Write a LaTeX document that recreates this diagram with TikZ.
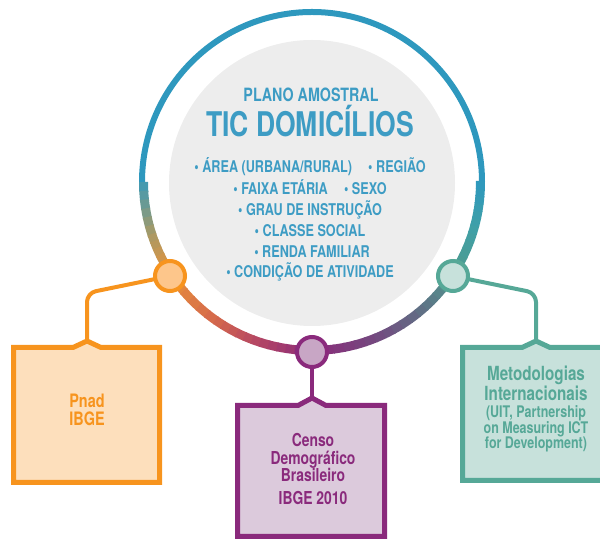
\documentclass[tikz,border=0pt]{standalone}
\usepackage{fontspec}
\setmainfont{TeX Gyre Heros}[FakeStretch=0.78]
\usetikzlibrary{positioning}
\definecolor{ticblue}{HTML}{3D9CC4}
\definecolor{ringblue}{HTML}{2E98BE}
\definecolor{rg0}{HTML}{3C9AB6}
\definecolor{rg1}{HTML}{A89A66}
\definecolor{rg2}{HTML}{E8923A}
\definecolor{rg3}{HTML}{D4684C}
\definecolor{rg4}{HTML}{B34565}
\definecolor{rg5}{HTML}{8A2C7A}
\definecolor{rg6}{HTML}{74497F}
\definecolor{rg7}{HTML}{5E7386}
\definecolor{rg8}{HTML}{4F9B8F}
\definecolor{rg9}{HTML}{3FA0A8}
\definecolor{pnadline}{HTML}{F7941E}
\definecolor{pnadfill}{HTML}{FDDFBC}
\definecolor{pnadhub}{HTML}{FDC68B}
\definecolor{censoline}{HTML}{8A2A7C}
\definecolor{censofill}{HTML}{DCCADC}
\definecolor{censohub}{HTML}{C8A6C5}
\definecolor{metoline}{HTML}{56A897}
\definecolor{metofill}{HTML}{C7E1DB}
\definecolor{diskin}{HTML}{EDEDED}
\definecolor{diskmid}{HTML}{E0E0E0}
\definecolor{diskout}{HTML}{C8C8C8}
\pgfdeclareradialshading{diskshade}{\pgfpoint{0bp}{0bp}}{color(0bp)=(diskin); color(38bp)=(diskin); color(47bp)=(diskmid); color(50bp)=(diskout)}
\tikzset{
    hub/.style = {circle, line width=4, minimum size=30, inner sep=0pt},
    boxline/.style = {line width=5, line join=miter},
    link/.style = {line width=4, rounded corners=9},
    bullets/.style = {text=ticblue, anchor=base, inner sep=0pt, font=\bfseries\fontsize{16.2}{16}\selectfont},
    boxtext/.style = {align=center, inner sep=0pt, font=\bfseries\fontsize{18.5}{18}\selectfont}
}

\begin{document}
\begin{tikzpicture}[x=1pt,y=1pt]
  \clip (0,0) rectangle (600,540);
  \coordinate (ctr) at (312,358);

  % ring
  \draw[ringblue, line width=6] (ctr) ++(0:170) arc[start angle=0, end angle=180, radius=170];
  \foreach \aa/\ab/\ca/\cb in {180/198/rg0/rg1, 198/213/rg1/rg2, 213/235/rg2/rg3, 235/252/rg3/rg4,
      252/270/rg4/rg5, 270/292/rg5/rg6, 292/312/rg6/rg7, 312/328/rg7/rg8, 328/345/rg8/rg9, 345/360/rg9/ringblue}{
    \foreach \k in {0,...,5}{
      \pgfmathsetmacro\st{\aa+(\ab-\aa)*\k/6}
      \pgfmathsetmacro\en{\aa+(\ab-\aa)*(\k+1)/6+0.4}
      \pgfmathtruncatemacro\pc{100-(\k*100+50)/6}
      \draw[line width=9, draw=\ca!\pc!\cb] (ctr) ++(\st:168.5) arc[start angle=\st, end angle=\en, radius=168.5];
    }
  }

  % disk
  \shade[shading=diskshade] (312,357) circle[radius=143];
  \node[text=ticblue, anchor=base, inner sep=0pt, font=\bfseries\fontsize{18.3}{18}\selectfont] (plano) at (311,438) {PLANO AMOSTRAL};
  \node[text=ticblue, anchor=base, inner sep=0pt, font=\bfseries\fontsize{34}{34}\selectfont] (tic) at (310,403) {TIC DOMICÍLIOS};
  \node[bullets] (l1) at (310,367) {\textbullet\ ÁREA (URBANA/RURAL)\quad\textbullet\ REGIÃO};
  \node[bullets] (l2) at (310,345.5) {\textbullet\ FAIXA ETÁRIA\quad\textbullet\ SEXO};
  \node[bullets] (l3) at (310,324.5) {\textbullet\ GRAU DE INSTRUÇÃO};
  \node[bullets] (l4) at (310,303.5) {\textbullet\ CLASSE SOCIAL};
  \node[bullets] (l5) at (312,282.5) {\textbullet\ RENDA FAMILIAR};
  \node[bullets] (l6) at (310,262.5) {\textbullet\ CONDIÇÃO DE ATIVIDADE};

  % boxes
  \coordinate (opeak) at (87,199);
  \coordinate (ppeak) at (312,142);
  \coordinate (tpeak) at (536,199);
  \filldraw[boxline, draw=pnadline, fill=pnadfill] (13.5,192.5) -- (73,192.5) -- (opeak) -- (101,192.5)
    -- (159.5,192.5) -- (159.5,57.5) -- (13.5,57.5) -- cycle;
  \filldraw[boxline, draw=censoline, fill=censofill] (237.5,134.5) -- (298,134.5) -- (ppeak) -- (326,134.5)
    -- (384.5,134.5) -- (384.5,3.5) -- (237.5,3.5) -- cycle;
  \filldraw[boxline, draw=metoline, fill=metofill] (462.5,192.5) -- (522,192.5) -- (tpeak) -- (550,192.5)
    -- (609.5,192.5) -- (609.5,59.5) -- (462.5,59.5) -- cycle;

  \node[boxtext, text=pnadline] (pnad) at (87,130) {Pnad\\IBGE};
  \node[boxtext, text=censoline, font=\bfseries\fontsize{17.8}{17.5}\selectfont] (censo) at (313,71)
    {Censo\\Demográfico\\Brasileiro\\[5pt]IBGE 2010};
  \node[boxtext, text=metoline, font=\bfseries\fontsize{16}{15.5}\selectfont] (meto) at (536,131)
    {\fontsize{19.5}{15.5}\selectfont Metodologias\\\fontsize{19.5}{15.5}\selectfont Internacionais\\[2pt]
     (UIT, Partnership\\on Measuring ICT\\for Development)};

  % links and hubs
  \draw[link, pnadline] (170,264) -- (87,247) -- (opeak);
  \draw[link, censoline] (312,188) -- (ppeak);
  \draw[link, metoline] (453,264) -- (536,247) -- (tpeak);
  \node[hub, draw=pnadline, fill=pnadhub] (ohub) at (170,264) {};
  \node[hub, draw=censoline, fill=censohub] (phub) at (312,188) {};
  \node[hub, draw=metoline, fill=metofill] (thub) at (453,264) {};
\end{tikzpicture}
\end{document}
